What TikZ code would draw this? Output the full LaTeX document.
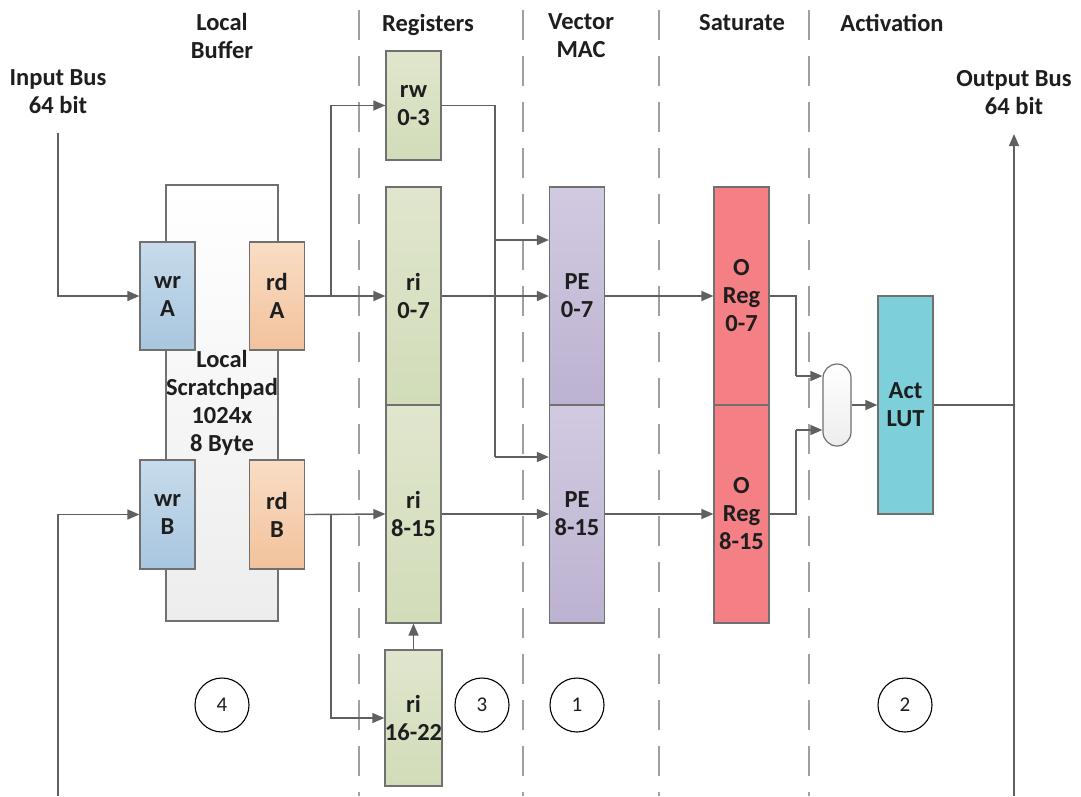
\documentclass[tikz,border=0pt]{standalone}
\usepackage{fontspec}
\setmainfont{Carlito}
\usetikzlibrary{arrows.meta}

\definecolor{edge}{HTML}{707070}
\definecolor{wire}{HTML}{606060}
\definecolor{divgray}{HTML}{A0A0A0}
\definecolor{ink}{HTML}{1E1E1E}
\definecolor{wrtop}{HTML}{C7DBEB}
\definecolor{wrbot}{HTML}{A8C6DF}
\definecolor{rdtop}{HTML}{F9DDC5}
\definecolor{rdbot}{HTML}{F2C29C}
\definecolor{grtop}{HTML}{E0E6CD}
\definecolor{grbot}{HTML}{D1DCB9}
\definecolor{putop}{HTML}{D2CAE1}
\definecolor{pubot}{HTML}{BCB2D1}
\definecolor{oreg}{HTML}{F47F85}
\definecolor{actc}{HTML}{7DCFDA}
\definecolor{padbot}{HTML}{EDEDED}

\newcommand{\lblfont}{\fontsize{24.5}{28}\selectfont\bfseries}
\newcommand{\numfont}{\fontsize{21}{24}\selectfont}

\begin{document}
\begin{tikzpicture}[x=1pt,y=-1pt,
  blk/.style={draw=edge, line width=1.2pt, inner sep=0pt, align=center,
    font=\lblfont, text=ink, minimum width=55pt},
  wrbox/.style={blk, minimum height=108pt, top color=wrtop, bottom color=wrbot},
  rdbox/.style={blk, minimum height=108pt, top color=rdtop, bottom color=rdbot},
  regbox/.style={blk, top color=grtop, bottom color=grbot},
  pebox/.style={blk, minimum height=218pt, top color=putop, bottom color=pubot},
  obox/.style={blk, minimum height=218pt, fill=oreg},
  heading/.style={font=\lblfont, text=ink, align=center, inner sep=0pt},
  stage/.style={circle, draw=black, line width=1.1pt, fill=white,
    minimum size=54pt, inner sep=0pt, font=\numfont, text=ink},
  divider/.style={draw=divgray, line width=1.4pt, dash pattern=on 30pt off 16pt},
  wireline/.style={draw=wire, line width=1.4pt},
  arrow/.style={wireline, -{Triangle[length=12pt,width=10pt]}}]

\useasboundingbox (0,0) rectangle (1081,796);

% column separators
\draw[divider] (359,10) -- (359,796);
\draw[divider] (523,10) -- (523,796);
\draw[divider] (659,10) -- (659,796);
\draw[divider] (809,10) -- (809,796);

% column headings
\node[heading] (hbuf) at (222,36) {Local\\Buffer};
\node[heading] (hreg) at (428,25) {Registers};
\node[heading] (hmac) at (581,35.5) {Vector\\MAC};
\node[heading] (hsat) at (742,23) {Saturate};
\node[heading] (hact) at (892,23) {Activation};
\node[heading] (hin)  at (58,92) {Input Bus\\64 bit};
\node[heading] (hout) at (1014,93) {Output Bus\\64 bit};

% local scratchpad with its four ports
\node[blk, minimum width=110pt, minimum height=436pt,
      top color=white, bottom color=padbot] (pad) at (222,403)
      {Local\\Scratchpad\\1024x\\8 Byte};
\node[wrbox] (wrA) at (167.5,296) {wr\\A};
\node[rdbox] (rdA) at (277,296) {rd\\A};
\node[wrbox, minimum height=109pt] (wrB) at (167.5,514.5) {wr\\B};
\node[rdbox, minimum height=109pt] (rdB) at (277,514.5) {rd\\B};

% registers
\node[regbox, minimum height=109pt] (rw)  at (413.5,105.5) {rw\\0-3};
\node[regbox, minimum height=218pt] (ri1) at (413.5,296) {ri\\0-7};
\node[regbox, minimum height=218pt] (ri2) at (413.5,514) {ri\\8-15};
\node[regbox, minimum height=136pt] (ri3) at (413.5,718) {ri\\16-22};

% vector MAC
\node[pebox] (pe1) at (577,296) {PE\\0-7};
\node[pebox] (pe2) at (577,514) {PE\\8-15};

% saturate
\node[obox] (or1) at (741.5,296) {O\\Reg\\0-7};
\node[obox] (or2) at (741.5,514) {O\\Reg\\8-15};

% activation
\node[draw=edge, line width=1.2pt, minimum width=28pt, minimum height=82pt,
      inner sep=0pt, rounded corners=14pt, top color=white, bottom color=padbot]
      (mux) at (837,405) {};
\node[blk, minimum height=218pt, fill=actc] (act) at (905.5,405) {Act\\LUT};

% stage numbers
\node[stage] (s4) at (222,705) {4};
\node[stage] (s3) at (482,705) {3};
\node[stage] (s1) at (577,705) {1};
\node[stage] (s2) at (905,705) {2};

% bus end points and wire bends
\coordinate (inTop) at (58,133);
\coordinate (inBot) at (58,796);
\coordinate (outTop) at (1014,134);
\coordinate (outBot) at (1014,796);
\coordinate (tapA) at (331,296);
\coordinate (tapB) at (331,514);
\coordinate (rwA) at (495,240);
\coordinate (rwB) at (495,457);
\coordinate (selA) at (796,376);
\coordinate (selB) at (796,430);

% input side
\draw[arrow] (inTop) |- (wrA.west);
\draw[arrow] (inBot) |- (wrB.west);

% scratchpad to registers
\draw[arrow] (rdA.east) -- (ri1.west);
\draw[arrow] (tapA) |- (rw.west);
\draw[arrow] (rdB.east) -- (ri2.west);
\draw[arrow] (tapB) |- (ri3.west);
\draw[arrow] (ri3.north) -- (ri2.south);

% registers to MAC
\draw[wireline] (rw.east) -| (rwB);
\draw[arrow] (rwA) -- (pe1.west |- rwA);
\draw[arrow] (rwB) -- (pe2.west |- rwB);
\draw[arrow] (ri1.east) -- (pe1.west);
\draw[arrow] (ri2.east) -- (pe2.west);

% MAC to saturate
\draw[arrow] (pe1.east) -- (or1.west);
\draw[arrow] (pe2.east) -- (or2.west);

% saturate to activation
\draw[wireline] (or1.east) -| (selA);
\draw[arrow] (selA) -- (mux.west |- selA);
\draw[wireline] (or2.east) -| (selB);
\draw[arrow] (selB) -- (mux.west |- selB);
\draw[arrow] (mux.east) -- (act.west);

% output side
\draw[wireline] (act.east) -- (act.east -| outTop);
\draw[arrow] (outBot) -- (outTop);

\end{tikzpicture}
\end{document}
